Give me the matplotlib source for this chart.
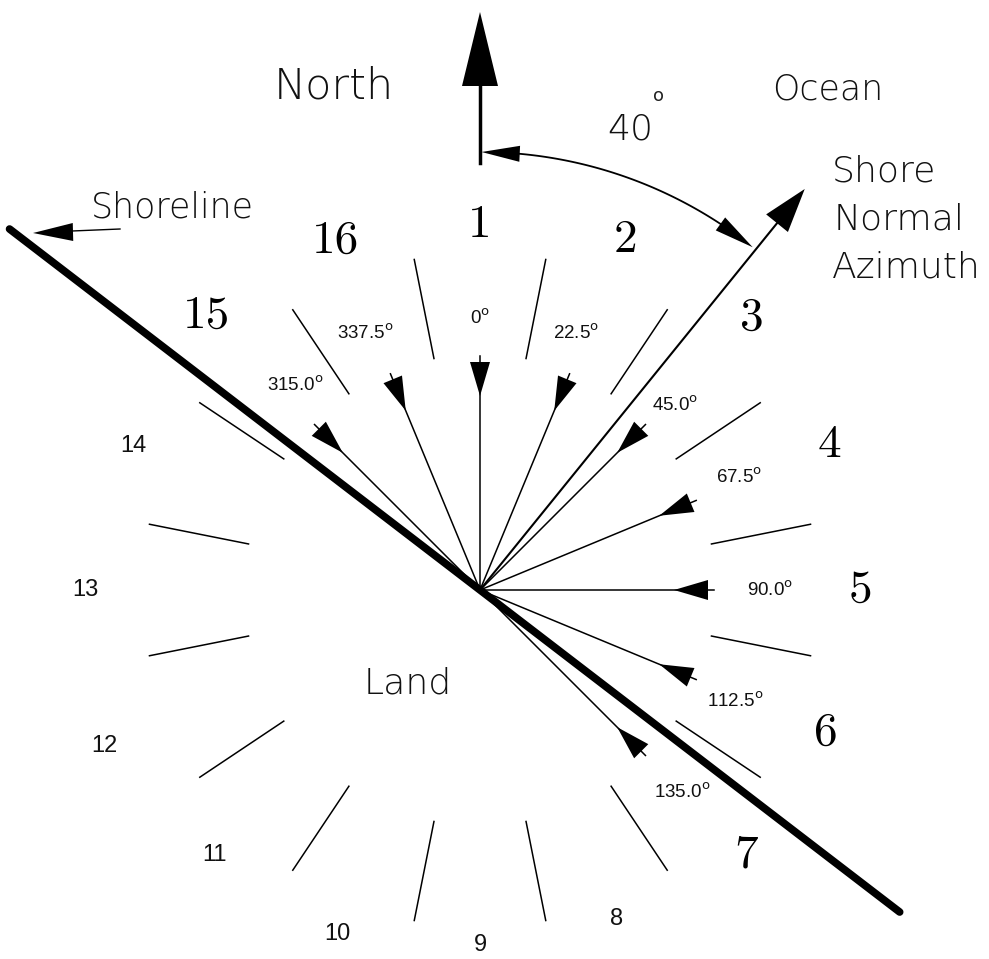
import numpy as np
import matplotlib.pyplot as plt
from matplotlib.patches import Polygon

# sector numbers and their centre azimuths (deg from north, clockwise)
sectors = [1, 2, 3, 4, 5, 6, 7, 8, 9, 10, 11, 12, 13, 14, 15, 16]
sector_az = [0.0, 22.5, 45.0, 67.5, 90.0, 112.5, 135.0, 157.5,
             180.0, 202.5, 225.0, 247.5, 270.0, 292.5, 315.0, 337.5]
ocean_sectors = [15, 16, 1, 2, 3, 4, 5, 6, 7]
# sector boundaries
divider_az = [11.25, 33.75, 56.25, 78.75, 101.25, 123.75, 146.25, 168.75,
              191.25, 213.75, 236.25, 258.75, 281.25, 303.75, 326.25, 348.75]
# incoming wave directions
wave_az = [315.0, 337.5, 0.0, 22.5, 45.0, 67.5, 90.0, 112.5, 135.0]
wave_labels = ["315.0", "337.5", "0", "22.5", "45.0", "67.5", "90.0", "112.5", "135.0"]
shore_normal_az = 39.0
shore_normal_label = "40"
shoreline_az = 127.5

# layout (pixels)
CX, CY = 480, 590
label_r = [365, 379, 385, 378, 380, 374, 376, 356, 355, 372, 375, 407, 395, 375, 387, 378]
wave_label_r = [276, 281, 272, 274, 269, 283, 290, 278, 286]
wave_label_daz = [3, -1.5, 0, -2, 1.5, -1, 0, 1, 0]


def pt(az, r):
    a = np.radians(az)
    return CX + r * np.sin(a), CY - r * np.cos(a)


def head(ax, tip, base, hw):
    tx, ty = tip
    bx, by = base
    d = np.hypot(tx - bx, ty - by)
    px, py = -(ty - by) / d * hw, (tx - bx) / d * hw
    ax.add_patch(Polygon([(tx, ty), (bx + px, by + py), (bx - px, by - py)],
                         closed=True, color="black", lw=0))


fig = plt.figure(figsize=(9.89, 9.59), dpi=100)
ax = fig.add_axes([0, 0, 1, 1])
ax.set_xlim(0, 989)
ax.set_ylim(959, 0)
ax.axis("off")

sans = ["DejaVu Sans"]

# sector dividers
for az in divider_az:
    x0, y0 = pt(az, 236)
    x1, y1 = pt(az, 337)
    ax.plot([x0, x1], [y0, y1], color="black", lw=1.1)

# wave arrows
for az in wave_az:
    x1, y1 = pt(az, 234)
    ax.plot([CX, x1], [CY, y1], color="black", lw=1.1)
    head(ax, pt(az, 194), pt(az, 228), 10)

# wave direction labels
for az, lab, r, da in zip(wave_az, wave_labels, wave_label_r, wave_label_daz):
    x, y = pt(az + da, r)
    ax.text(x, y, lab + r"$^{\mathrm{o}}$", fontsize=13.5, family="Liberation Sans",
            ha="center", va="center", color="#111")

# shoreline
x0, y0 = pt(shoreline_az + 180, 593)
x1, y1 = pt(shoreline_az, 529)
ax.plot([x0, x1], [y0, y1], color="black", lw=5.5, solid_capstyle="round")

# shore normal
x1, y1 = pt(shore_normal_az, 480)
ax.plot([CX, x1], [CY, y1], color="black", lw=1.5)
head(ax, pt(shore_normal_az, 516), pt(shore_normal_az, 472), 14)

# north arrow
ax.plot([CX, CX], [163, 70], color="black", lw=2.5)
head(ax, (CX, 12), (CX, 86), 18)

# angle arc between north and shore normal
R = 438
th = np.linspace(4, 34, 60)
ax.plot(CX + R * np.sin(np.radians(th)), CY - R * np.cos(np.radians(th)),
        color="black", lw=1.3)
head(ax, pt(0.2, R), pt(5.2, R), 8)
head(ax, pt(38.5, R), pt(33.3, R), 8)

# annotations
big = dict(family=sans, color="#111", fontweight="light")
ax.text(630, 130, shore_normal_label, fontsize=26, ha="center", va="center", **big)
ax.text(658, 96, "o", fontsize=13, family=sans, color="#222", ha="center", va="center")
ax.text(334, 86, "North", fontsize=31, ha="center", va="center", **big)
ax.text(828, 90, "Ocean", fontsize=25, ha="center", va="center", **big)
ax.text(172, 207, "Shoreline", fontsize=25, ha="center", va="center", **big)
ax.text(408, 683, "Land", fontsize=26, ha="center", va="center", **big)
ax.text(832, 172, "Shore", fontsize=26, ha="left", va="center", **big)
ax.text(834, 220, "Normal", fontsize=26, ha="left", va="center", **big)
ax.text(832, 267, "Azimuth", fontsize=26, ha="left", va="center", **big)

# shoreline label arrow
ax.plot([72, 120], [231, 229], color="black", lw=1.0)
head(ax, (33, 233), (73, 232), 9)

# sector numbers
for s, az, r in zip(sectors, sector_az, label_r):
    x, y = pt(az, r)
    if s in ocean_sectors:
        ax.text(x, y, str(s), fontsize=34, family="cmr10", ha="center", va="center")
    else:
        ax.text(x, y, str(s), fontsize=17, family="Liberation Sans",
                ha="center", va="center", color="#111")

fig.savefig("out.png", dpi=100, facecolor="white")
